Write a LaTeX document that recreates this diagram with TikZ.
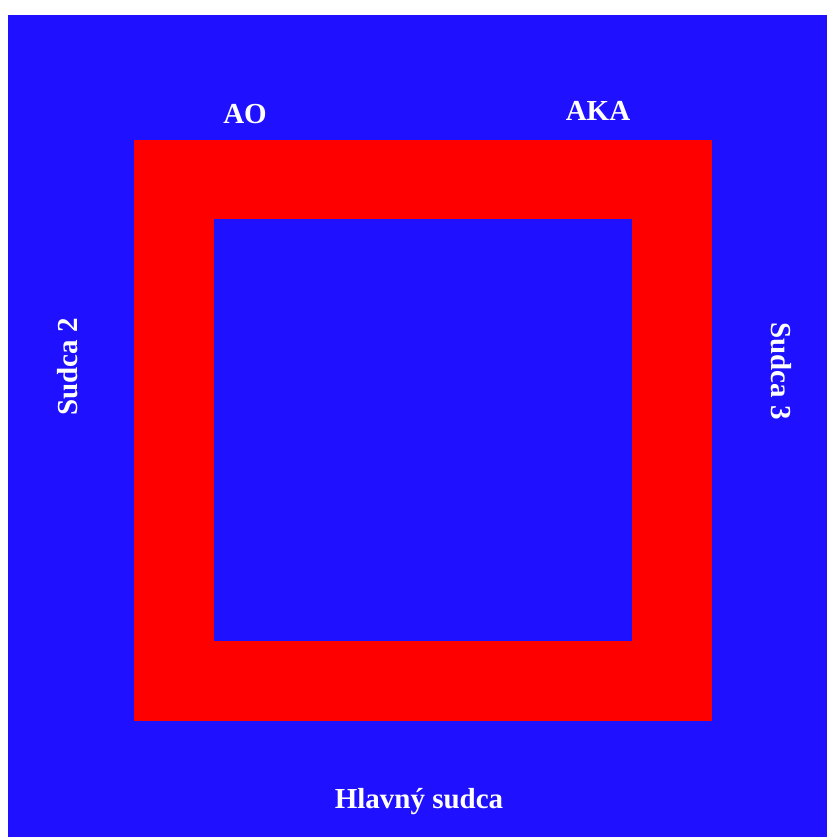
\documentclass[tikz,border=0pt]{standalone}
\usepackage{fontspec}
\setmainfont{Liberation Serif}
\definecolor{bgblue}{RGB}{31,16,255}
\definecolor{frred}{RGB}{255,0,0}
\begin{document}
\begin{tikzpicture}[x=1pt,y=-1pt,
  lbl/.style={text=white,font=\bfseries\fontsize{29}{31}\selectfont,inner sep=0pt}]
\useasboundingbox (0,0) rectangle (827,837);
\fill[white] (0,0) rectangle (827,837);
\fill[bgblue] (8,15) rectangle (827,837);
\fill[frred] (134,140) rectangle (712,721);
\fill[bgblue] (214,219) rectangle (632,641);
\node[lbl,anchor=base] (ao) at (245,124) {AO};
\node[lbl,anchor=base] (aka) at (598,121) {AKA};
\node[lbl,anchor=base] (hs) at (419,808) {Hlavný sudca};
\node[lbl,rotate=90] (s2) at (68,367) {Sudca 2};
\node[lbl,rotate=-90] (s3) at (781,371) {Sudca 3};
\end{tikzpicture}
\end{document}
